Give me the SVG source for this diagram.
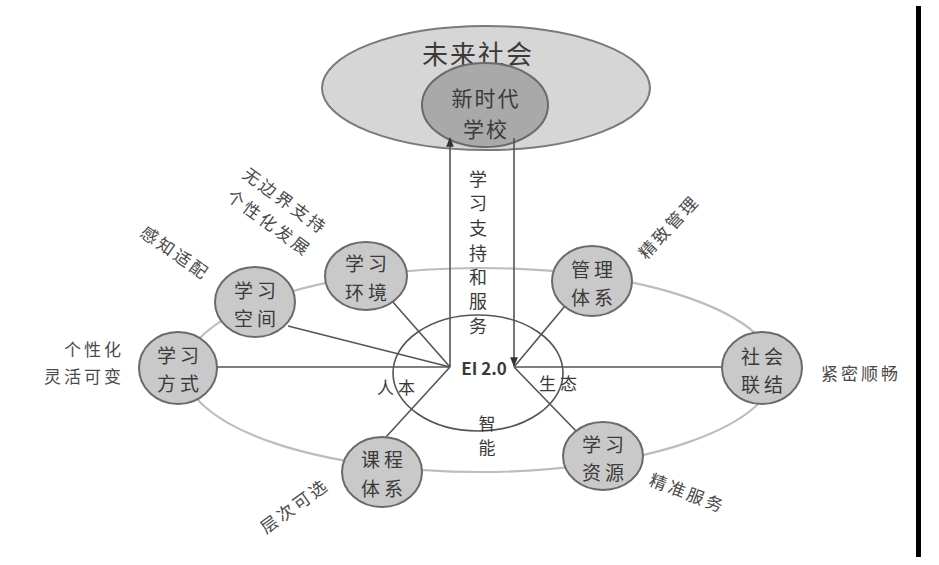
<svg xmlns="http://www.w3.org/2000/svg" width="939" height="565" viewBox="0 0 939 565">
<style>
text{font-family:"Noto Sans CJK SC","Noto Sans",sans-serif;fill:#3a3a3a;text-anchor:middle;dominant-baseline:central}
.node{fill:#c9c9c9;stroke:#6a6a6a;stroke-width:2}
.nt{font-size:19px;letter-spacing:4px}
.lab{font-size:17px;letter-spacing:3px;fill:#4a4a4a}
.conn{stroke:#555;stroke-width:1.6;fill:none}
.ring{stroke:#bdbdbd;stroke-width:2.2;fill:none}
.vt{font-size:18px}
</style>
<defs>
<marker id="ah" viewBox="0 0 10 10" refX="9" refY="5" markerWidth="6" markerHeight="6" orient="auto">
<path d="M0,1 L10,5 L0,9 z" fill="#333"/>
</marker>
</defs>
<rect width="939" height="565" fill="#fff"/>
<rect x="916" y="6" width="5" height="551" fill="#000"/>

<g id="society">
<ellipse cx="486" cy="88" rx="164" ry="62" fill="#d6d6d6" stroke="#7a7a7a" stroke-width="2"/>
<text x="478" y="52" font-size="26" letter-spacing="2">未来社会</text>
</g>
<g id="school">
<ellipse cx="485" cy="105" rx="63" ry="42" fill="#a9a9a9" stroke="#6a6a6a" stroke-width="2"/>
<text x="486" y="97" font-size="21" letter-spacing="2">新时代</text>
<text x="486" y="128" font-size="21" letter-spacing="2">学校</text>
</g>

<g id="connectors">
<ellipse class="ring" cx="480" cy="370" rx="295" ry="102"/>
<ellipse cx="478" cy="373" rx="85" ry="58" fill="none" stroke="#555" stroke-width="1.6"/>
<line class="conn" x1="450" y1="367" x2="450" y2="138" marker-end="url(#ah)"/>
<line class="conn" x1="514" y1="138" x2="514" y2="366" marker-end="url(#ah)"/>
<line class="conn" x1="450" y1="367" x2="217" y2="367"/>
<line class="conn" x1="450" y1="367" x2="288" y2="326"/>
<line class="conn" x1="450" y1="367" x2="392" y2="301"/>
<line class="conn" x1="450" y1="367" x2="386" y2="437"/>
<line class="conn" x1="514" y1="367" x2="722" y2="367"/>
<line class="conn" x1="514" y1="367" x2="565" y2="306"/>
<line class="conn" x1="514" y1="367" x2="577" y2="432"/>
</g>

<g id="ei">
<text x="484" y="367" font-family="Liberation Sans,Arial,sans-serif" font-size="17" font-weight="bold" fill="#222">EI 2.0</text>
<text x="398" y="386" font-size="17" letter-spacing="4">人本</text>
<text x="560" y="382" font-size="17" letter-spacing="4">生态</text>
<text x="487" y="422" font-size="17">智</text>
<text x="487" y="446" font-size="17">能</text>
</g>

<g id="support">
<text class="vt" x="478" y="178">学</text>
<text class="vt" x="478" y="202">习</text>
<text class="vt" x="478" y="227">支</text>
<text class="vt" x="478" y="252">持</text>
<text class="vt" x="478" y="276">和</text>
<text class="vt" x="478" y="300">服</text>
<text class="vt" x="478" y="325">务</text>
</g>

<g id="n-fangshi">
<ellipse class="node" cx="178" cy="368" rx="39" ry="36"/>
<text class="nt" x="180" y="354">学习</text>
<text class="nt" x="180" y="382">方式</text>
</g>
<g id="n-kongjian">
<ellipse class="node" cx="255" cy="302" rx="40" ry="35"/>
<text class="nt" x="257" y="289">学习</text>
<text class="nt" x="257" y="317">空间</text>
</g>
<g id="n-huanjing">
<ellipse class="node" cx="366" cy="276" rx="41" ry="34"/>
<text class="nt" x="368" y="262">学习</text>
<text class="nt" x="368" y="291">环境</text>
</g>
<g id="n-guanli">
<ellipse class="node" cx="592" cy="281" rx="40" ry="35"/>
<text class="nt" x="594" y="268">管理</text>
<text class="nt" x="594" y="296">体系</text>
</g>
<g id="n-shehui">
<ellipse class="node" cx="762" cy="368" rx="40" ry="36"/>
<text class="nt" x="764" y="355">社会</text>
<text class="nt" x="764" y="383">联结</text>
</g>
<g id="n-ziyuan">
<ellipse class="node" cx="603" cy="456" rx="40" ry="34"/>
<text class="nt" x="605" y="443">学习</text>
<text class="nt" x="605" y="471">资源</text>
</g>
<g id="n-kecheng">
<ellipse class="node" cx="382" cy="472" rx="40" ry="35"/>
<text class="nt" x="384" y="458">课程</text>
<text class="nt" x="384" y="487">体系</text>
</g>

<g id="labels">
<text class="lab" x="124" y="348" style="text-anchor:end">个性化</text>
<text class="lab" x="124" y="375" style="text-anchor:end">灵活可变</text>
<text class="lab" transform="translate(176,252) rotate(35)">感知适配</text>
<text class="lab" transform="translate(286,200) rotate(36)">无边界支持</text>
<text class="lab" transform="translate(270,222) rotate(36)">个性化发展</text>
<text class="lab" transform="translate(668,226) rotate(-47)">精致管理</text>
<text class="lab" x="861" y="372">紧密顺畅</text>
<text class="lab" transform="translate(688,492) rotate(21)">精准服务</text>
<text class="lab" transform="translate(294,505) rotate(-36)">层次可选</text>
</g>
</svg>
